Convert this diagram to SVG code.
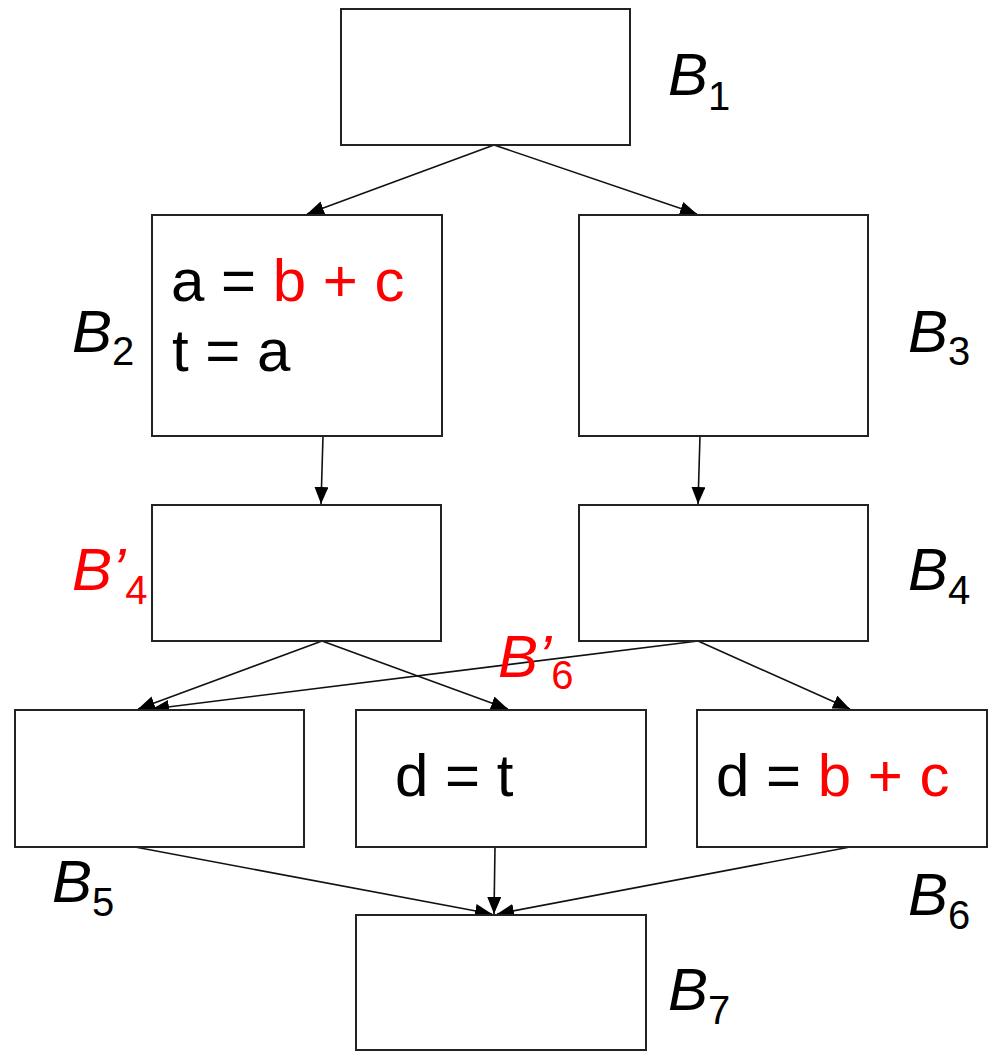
<svg xmlns="http://www.w3.org/2000/svg" width="996" height="1052" viewBox="0 0 996 1052">
<style>
.box{fill:#fff;stroke:#222;stroke-width:2}
.lbl{font-family:"Liberation Sans",Arial,sans-serif;font-size:60px;font-style:italic;fill:#000}
.sub{font-size:40px;font-style:normal}
.code{font-family:"Liberation Sans",Arial,sans-serif;font-size:60px;fill:#000}
.red{fill:#ff0000}
.edge{stroke:#111;stroke-width:1.6;fill:none;marker-end:url(#ah)}
</style>
<defs>
<marker id="ah" markerUnits="userSpaceOnUse" markerWidth="18" markerHeight="15" refX="17" refY="7" orient="auto">
<path d="M0,0 L17,7 L0,14 z" fill="#000"/>
</marker>
</defs>
<rect width="996" height="1052" fill="#fff"/>
<g id="connectors">
<line class="edge" x1="494" y1="145" x2="307" y2="214"/>
<line class="edge" x1="494" y1="145" x2="697" y2="214"/>
<line class="edge" x1="323" y1="436" x2="321" y2="504"/>
<line class="edge" x1="700" y1="436" x2="698" y2="504"/>
<line class="edge" x1="322" y1="641" x2="138" y2="709"/>
<line class="edge" x1="322" y1="641" x2="508" y2="709"/>
<line class="edge" x1="698" y1="641" x2="152" y2="709"/>
<line class="edge" x1="698" y1="641" x2="850" y2="709"/>
<line class="edge" x1="135" y1="847" x2="492" y2="914"/>
<line class="edge" x1="495" y1="847" x2="494" y2="914"/>
<line class="edge" x1="850" y1="847" x2="497" y2="914"/>
</g>
<g id="B1">
<rect class="box" x="341" y="9" width="289" height="136"/>
<text class="lbl" x="668" y="95">B<tspan class="sub" dy="15">1</tspan></text>
</g>
<g id="B2">
<rect class="box" x="152" y="215" width="290" height="221"/>
<text class="code" x="171" y="301">a = <tspan class="red">b + c</tspan></text>
<text class="code" x="172" y="371">t = a</text>
<text class="lbl" x="72" y="352">B<tspan class="sub" dy="13">2</tspan></text>
</g>
<g id="B3">
<rect class="box" x="579" y="215" width="289" height="221"/>
<text class="lbl" x="908" y="352">B<tspan class="sub" dy="13">3</tspan></text>
</g>
<g id="B4p">
<rect class="box" x="152" y="505" width="289" height="136"/>
<text class="lbl red" x="72" y="590">B’<tspan class="sub" dy="14">4</tspan></text>
</g>
<g id="B4">
<rect class="box" x="579" y="505" width="289" height="136"/>
<text class="lbl" x="908" y="590">B<tspan class="sub" dy="14">4</tspan></text>
</g>
<g id="B6p-label">
<text class="lbl red" x="498" y="677">B’<tspan class="sub" dy="12">6</tspan></text>
</g>
<g id="B5">
<rect class="box" x="15" y="710" width="289" height="137"/>
<text class="lbl" x="52" y="902">B<tspan class="sub" dy="14">5</tspan></text>
</g>
<g id="B6p">
<rect class="box" x="356" y="710" width="290" height="137"/>
<text class="code" x="395" y="796">d = t</text>
</g>
<g id="B6">
<rect class="box" x="697" y="710" width="290" height="137"/>
<text class="code" x="716" y="796">d = <tspan class="red">b + c</tspan></text>
<text class="lbl" x="908" y="915">B<tspan class="sub" dy="14">6</tspan></text>
</g>
<g id="B7">
<rect class="box" x="356" y="915" width="290" height="135"/>
<text class="lbl" x="668" y="1010">B<tspan class="sub" dy="14">7</tspan></text>
</g>
</svg>
